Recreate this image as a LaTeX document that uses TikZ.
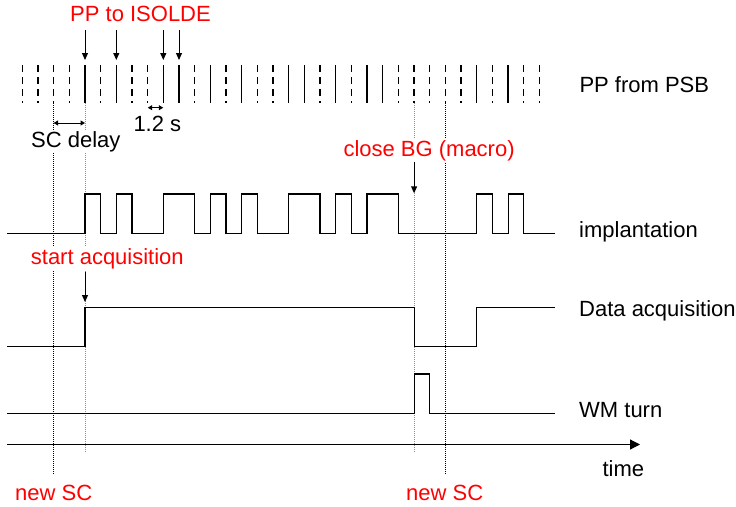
\documentclass[tikz,border=0pt]{standalone}
\usepackage{fontspec}
\setmainfont{Liberation Sans}
\usetikzlibrary{arrows.meta}
\definecolor{sigred}{RGB}{255,0,0}
\begin{document}
\begin{tikzpicture}[x=1pt,y=-1pt,
  txt/.style={font=\fontsize{22}{26}\selectfont, inner sep=1pt, fill=white, anchor=base west},
  redtxt/.style={txt, text=sigred},
  sig/.style={line width=1.2pt, line join=miter},
  ppsolid/.style={line width=1.5pt},
  ppdash/.style={line width=1.5pt, dash pattern=on 6.5pt off 5.5pt},
  darkdot/.style={line width=1pt, dash pattern=on 1pt off 1pt},
  lightdot/.style={line width=1pt, black!45, dash pattern=on 1pt off 1pt},
  pointer/.style={line width=1pt, -{Triangle[length=7pt,width=6pt]}},
  spanarrow/.style={line width=1pt, {Triangle[length=4.5pt,width=5pt]}-{Triangle[length=4.5pt,width=5pt]}},
  axisarrow/.style={line width=1.2pt, -{Triangle[length=10pt,width=10pt]}}
]
\useasboundingbox (0,0) rectangle (736,506);

% PP from PSB pulses
\foreach \i in {0,1,2,3,5,7,8,11,13,15,16,19,21,24,25,26,27,28,30,32,33}
  \draw[ppdash] ({22.3+15.67*\i},65) -- ({22.3+15.67*\i},103);
\foreach \i in {4,6,9,10,12,14,17,18,20,22,23,29,31}
  \draw[ppsolid] ({22.3+15.67*\i},65) -- ({22.3+15.67*\i},103);

% vertical marker lines
\coordinate (scA top) at (53.6,103);  \coordinate (scA bot) at (53.6,475);
\coordinate (dlA top) at (85,103);    \coordinate (dlA bot) at (85,452);
\coordinate (dlB top) at (414.1,103); \coordinate (dlB bot) at (414.1,452);
\coordinate (scB top) at (445.4,103); \coordinate (scB bot) at (445.4,475);
\draw[darkdot] (scA top) -- (scA bot);
\draw[lightdot] (dlA top) -- (dlA bot);
\draw[lightdot] (dlB top) -- (dlB bot);
\draw[darkdot] (scB top) -- (scB bot);

% implantation
\draw[sig] (7.3,233.3)
  \foreach \a/\b in {85/100.7,116.3/131.9,163.3/194.7,210.3/226,241.7/257.3,288.7/320,335.7/351.4,367/398.4,476.7/492.4,508.1/523.7}
  { -- (\a,233.3) -- (\a,194) -- (\b,194) -- (\b,233.3) } -- (555,233.3);

% data acquisition
\draw[sig] (7.3,346.5) -- (85,346.5) -- (85,307.7) -- (414.1,307.7) -- (414.1,346.5)
  -- (476.7,346.5) -- (476.7,307.7) -- (555,307.7);

% WM turn
\draw[sig] (7.3,413.3) -- (414.1,413.3) -- (414.1,374) -- (429.7,374) -- (429.7,413.3) -- (555,413.3);

% time axis
\coordinate (axis start) at (7.3,444.5);
\coordinate (axis end) at (640,444.5);
\draw[axisarrow] (axis start) -- (axis end);

% labels
\node[redtxt] (iso) at (69,21.7) {PP to ISOLDE};
\node[txt] (psb) at (578.3,92.3) {PP from PSB};
\node[txt] (onetwo) at (132.3,131) {1.2 s};
\node[txt] (scdelay) at (30,147.7) {SC delay};
\node[redtxt] (closebg) at (342.3,156) {close BG (macro)};
\node[txt] (impl) at (578,237.3) {implantation};
\node[redtxt] (startacq) at (29.7,264.3) {start acquisition};
\node[txt] (daq) at (578,316) {Data acquisition};
\node[txt] (wm) at (578,417.5) {WM turn};
\node[txt] (time) at (601.3,476) {time};
\node[redtxt] (newscA) at (14,500) {new SC};
\node[redtxt] (newscB) at (405,500) {new SC};

% pointer arrows
\foreach \x [count=\k] in {85,116.3,163.3,179} {
  \coordinate (isoS\k) at (\x,30);
  \coordinate (isoE\k) at (\x,60);
  \draw[pointer] (isoS\k) -- (isoE\k);
}
\coordinate (saS) at (85,271.7); \coordinate (saE) at (85,302);
\draw[pointer] (saS) -- (saE);
\coordinate (cbS) at (414.1,161.7); \coordinate (cbE) at (414.1,193.3);
\draw[pointer] (cbS) -- (cbE);

% span arrows
\coordinate (sdL) at (53.6,123); \coordinate (sdR) at (85,123);
\draw[spanarrow] (sdL) -- (sdR);
\coordinate (ptL) at (147.7,107.7); \coordinate (ptR) at (163.3,107.7);
\draw[spanarrow] (ptL) -- (ptR);
\end{tikzpicture}
\end{document}
